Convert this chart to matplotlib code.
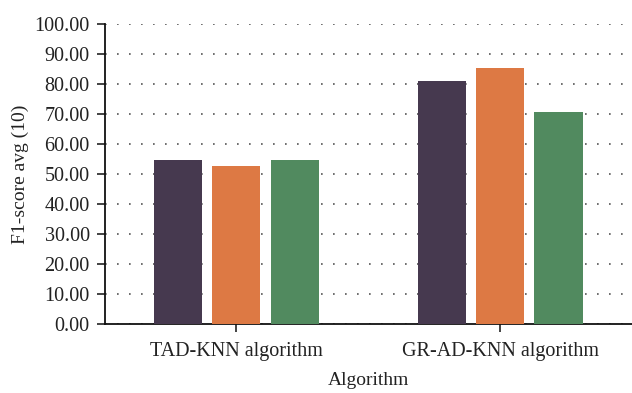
import numpy as np
import matplotlib.pyplot as plt

plt.rcParams['font.family'] = ['Liberation Serif', 'DejaVu Serif']

# Data
algorithms = ['TAD-KNN algorithm', 'GR-AD-KNN algorithm']
series_a = [54.7, 81.0]
series_b = [52.7, 85.3]
series_c = [54.7, 70.7]
colors = ['#46394F', '#DD7944', '#518A5F']

fig = plt.figure(figsize=(6.32, 3.93), dpi=100)
ax = fig.add_axes([105 / 632, 69 / 393, 527 / 632, 300 / 393])

x = np.arange(len(algorithms))
width = 0.182
step = 0.2215
for i, (vals, c) in enumerate(zip([series_a, series_b, series_c], colors)):
    ax.bar(x + (i - 1) * step, vals, width=width, color=c, zorder=3)

ax.set_xlim(-0.497, 1.5)
ax.set_ylim(0, 100)
ax.set_yticks(np.arange(0, 101, 10))
ax.set_yticklabels([f'{v:.2f}' for v in np.arange(0, 101, 10)])
ax.set_xticks(x)
ax.set_xticklabels(algorithms)

ax.yaxis.grid(True, color='#555555', linestyle=(0, (1, 6.2)), linewidth=1.2, zorder=0)
ax.set_axisbelow(True)

for s in ['top', 'right']:
    ax.spines[s].set_visible(False)
for s in ['left', 'bottom']:
    ax.spines[s].set_linewidth(1.3)
    ax.spines[s].set_color('#111111')

ax.tick_params(axis='both', direction='out', length=6, width=1.1, labelsize=14.5,
               colors='#111111', labelcolor='#222222')
ax.tick_params(axis='y', pad=5)
ax.tick_params(axis='x', pad=7)

ax.set_ylabel('F1-score avg (10)', fontsize=14, color='#222222', labelpad=4)
ax.set_xlabel('Algorithm', fontsize=14, color='#222222', labelpad=8)

fig.savefig('out.png', dpi=100)
